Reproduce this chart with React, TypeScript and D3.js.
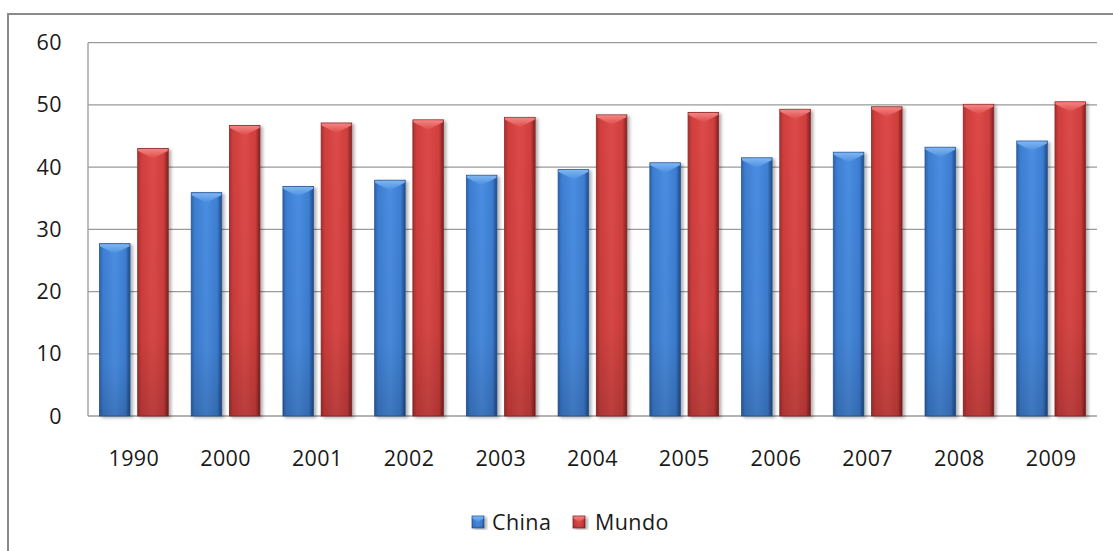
import React from "react";
import * as d3 from "d3";

const years = ["1990", "2000", "2001", "2002", "2003", "2004", "2005", "2006", "2007", "2008", "2009"];
const seriesNames = ["China", "Mundo"];
const chinaValues = [27.7, 35.9, 36.9, 37.9, 38.7, 39.6, 40.7, 41.5, 42.4, 43.2, 44.2];
const mundoValues = [43.0, 46.7, 47.1, 47.6, 48.0, 48.4, 48.8, 49.3, 49.7, 50.1, 50.5];
const yTicks = [0, 10, 20, 30, 40, 50, 60];

const W = 1113;
const H = 551;
const plot = { left: 88, right: 1097, top: 42.7, bottom: 416 };
const FONT = "'Open Sans', 'DejaVu Sans', sans-serif";
const FONT_SIZE = 21.5;

const palette: Record<string, { light: string; mid: string; edge: string; dark: string; top: string; stroke: string }> = {
  China: { light: "#4a8de0", mid: "#3d7ed2", edge: "#2d62ab", dark: "#1f4a85", top: "#7fb6f2", stroke: "#2a5896" },
  Mundo: { light: "#dc4a48", mid: "#d03e3d", edge: "#a9302f", dark: "#7d2222", top: "#f38583", stroke: "#8e2a29" },
};

function GradientDefs() {
  return (
    <defs>
      {seriesNames.map((s) => {
        const c = palette[s];
        return (
          <React.Fragment key={s}>
            <linearGradient id={`body-${s}`} x1="0" x2="1" y1="0" y2="0">
              <stop offset="0%" stopColor={c.edge} />
              <stop offset="12%" stopColor={c.mid} />
              <stop offset="50%" stopColor={c.light} />
              <stop offset="85%" stopColor={c.mid} />
              <stop offset="100%" stopColor={c.dark} />
            </linearGradient>
            <linearGradient id={`cap-${s}`} x1="0" x2="0" y1="0" y2="1">
              <stop offset="0%" stopColor={c.top} />
              <stop offset="100%" stopColor={c.light} />
            </linearGradient>
          </React.Fragment>
        );
      })}
      <linearGradient id="shade-bottom" x1="0" x2="0" y1="0" y2="1">
        <stop offset="0%" stopColor="#000" stopOpacity="0" />
        <stop offset="70%" stopColor="#000" stopOpacity="0.04" />
        <stop offset="100%" stopColor="#000" stopOpacity="0.16" />
      </linearGradient>
      <filter id="bar-shadow" x="-20%" y="-5%" width="150%" height="115%">
        <feDropShadow dx="2.5" dy="1.5" stdDeviation="1.6" floodColor="#000" floodOpacity="0.3" />
      </filter>
    </defs>
  );
}

function BeveledBar({ x, y, w, h, series }: { x: number; y: number; w: number; h: number; series: string }) {
  const c = palette[series];
  const cap = Math.min(10, h / 2);
  const cx = x + w / 2;
  return (
    <g>
      <rect x={x} y={y} width={w} height={h} fill={`url(#body-${series})`} stroke={c.stroke} strokeWidth={0.8} filter="url(#bar-shadow)" />
      <rect x={x} y={y} width={w} height={h} fill="url(#shade-bottom)" />
      <polygon
        points={`${x + 0.5},${y + 0.5} ${x + w - 0.5},${y + 0.5} ${x + w - 0.5},${y + 2.5} ${cx},${y + cap} ${x + 0.5},${y + 2.5}`}
        fill={`url(#cap-${series})`}
      />
    </g>
  );
}

export default function App() {
  const x0 = d3.scaleBand<string>().domain(years).range([plot.left, plot.right]).paddingInner(0.25).paddingOuter(0.125);
  const x1 = d3.scaleBand<string>().domain(seriesNames).range([0, x0.bandwidth()]).paddingInner(0.2);
  const y = d3.scaleLinear().domain([0, 60]).range([plot.bottom, plot.top]);

  const seriesValues: Record<string, number[]> = { China: chinaValues, Mundo: mundoValues };

  const legendItems = [
    { name: "China", sx: 472, tx: 492 },
    { name: "Mundo", sx: 573, tx: 595 },
  ];

  const textProps = { fontFamily: FONT, fontSize: FONT_SIZE, fill: "#1a1a1a", letterSpacing: 0.4 };

  return (
    <svg width={W} height={H} style={{ position: "fixed", left: 0, top: 0, background: "#fff" }}>
      <GradientDefs />
      <rect x={0} y={0} width={W} height={H} fill="#fff" />
      {/* outer chart frame */}
      <rect x={8} y={14} width={W + 20} height={H + 20} fill="none" stroke="#8a8a8a" strokeWidth={2} />

      {/* gridlines */}
      {yTicks.map((t) => (
        <line key={t} x1={plot.left} x2={plot.right} y1={y(t)} y2={y(t)} stroke="#9a9a9a" strokeWidth={1.3} />
      ))}
      <line x1={plot.left} x2={plot.left} y1={plot.top} y2={plot.bottom} stroke="#9a9a9a" strokeWidth={1.3} />

      {/* y tick labels */}
      {yTicks.map((t) => (
        <text key={t} x={62} y={y(t)} dy="0.35em" textAnchor="end" {...textProps}>
          {t}
        </text>
      ))}

      {/* bars */}
      {years.map((yr, i) => (
        <g key={yr}>
          {seriesNames.map((s) => {
            const v = seriesValues[s][i];
            const bx = (x0(yr) as number) + (x1(s) as number);
            return <BeveledBar key={s} x={bx} y={y(v)} w={x1.bandwidth()} h={y(0) - y(v)} series={s} />;
          })}
        </g>
      ))}

      {/* x tick labels */}
      {years.map((yr) => (
        <text key={yr} x={(x0(yr) as number) + x0.bandwidth() / 2} y={458} dy="0.35em" textAnchor="middle" {...textProps}>
          {yr}
        </text>
      ))}

      {/* legend */}
      {legendItems.map((it) => (
        <g key={it.name}>
          <BeveledBar x={it.sx} y={516} w={12} h={12} series={it.name} />
          <text x={it.tx} y={522} dy="0.35em" {...textProps}>
            {it.name}
          </text>
        </g>
      ))}
    </svg>
  );
}
